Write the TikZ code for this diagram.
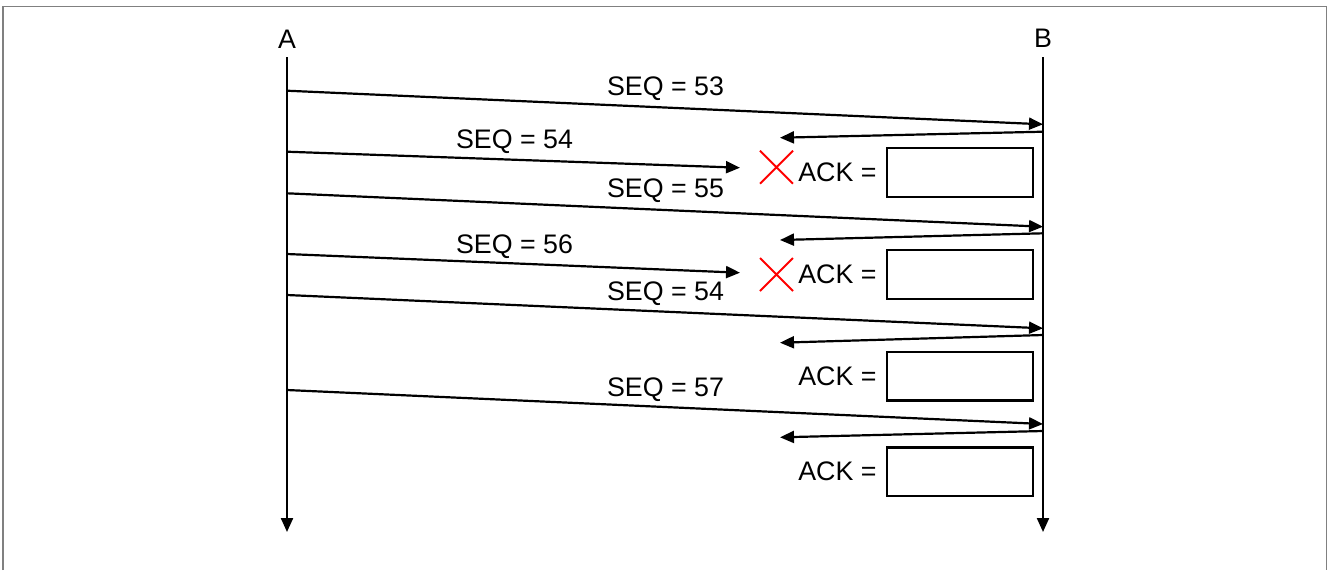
\documentclass[tikz,border=0pt]{standalone}
\usepackage{fontspec}
\setmainfont{Liberation Sans}
\usetikzlibrary{positioning}
\usetikzlibrary{arrows.meta}
\usetikzlibrary{shapes.misc}

\begin{document}
\begin{tikzpicture}[x=0.5pt,y=-0.5pt,line width=1.1pt,
	>={Triangle[length=7pt,width=6pt]},
	nodes={font=\fontsize{13.4}{15}\selectfont, inner sep=0pt},
	lbl/.style={anchor=base},
	lost/.style={cross out, draw=red, line width=1pt, minimum size=15.5pt},
	ackbox/.style={draw, rectangle, minimum width=73.3pt, minimum height=24.2pt}]
	\useasboundingbox (0,0) rectangle (1327,570);
	\draw[gray, line width=0.75pt] (3,570) -- (3,6.5) -- (1326.5,6.5) -- (1326.5,570);
	
	% hosts
	\node (A) [lbl] at (287,48) {A};
	\node (B) [lbl] at (1043,47) {B};
	\coordinate (A0) at (287,57);
	\coordinate (A1) at (287,532);
	\coordinate (B0) at (1043,57);
	\coordinate (B1) at (1043,532);
	\draw[->] (A0) -- (A1);
	\draw[->] (B0) -- (B1);
	
	% segments from A
	\coordinate (s1a) at (287,90.7);   \coordinate (s1b) at (1043,124.3);
	\coordinate (s2a) at (287,151.7);  \coordinate (s2b) at (740,167.7);
	\coordinate (s3a) at (287,193.3);  \coordinate (s3b) at (1043,226.7);
	\coordinate (s4a) at (287,254);    \coordinate (s4b) at (740,272.7);
	\coordinate (s5a) at (287,295);    \coordinate (s5b) at (1043,328.3);
	\coordinate (s6a) at (287,390);    \coordinate (s6b) at (1043,424);
	\draw[->] (s1a) -- (s1b);
	\draw[->] (s2a) -- (s2b);
	\draw[->] (s3a) -- (s3b);
	\draw[->] (s4a) -- (s4b);
	\draw[->] (s5a) -- (s5b);
	\draw[->] (s6a) -- (s6b);
	\node (l1) [lbl] at (665.5,95) {SEQ = 53};
	\node (l2) [lbl] at (514.5,148) {SEQ = 54};
	\node (l3) [lbl] at (665.5,197) {SEQ = 55};
	\node (l4) [lbl] at (514.5,253) {SEQ = 56};
	\node (l5) [lbl] at (665.5,300) {SEQ = 54};
	\node (l6) [lbl] at (665.5,396) {SEQ = 57};
	
	% acks from B
	\coordinate (r1a) at (1043,131.7); \coordinate (r1b) at (780,137.7);
	\coordinate (r2a) at (1043,233.3); \coordinate (r2b) at (780,240);
	\coordinate (r3a) at (1043,335);   \coordinate (r3b) at (780,342.7);
	\coordinate (r4a) at (1043,431);   \coordinate (r4b) at (780,437.3);
	\draw[->] (r1a) -- (r1b);
	\draw[->] (r2a) -- (r2b);
	\draw[->] (r3a) -- (r3b);
	\draw[->] (r4a) -- (r4b);
	
	\node (box1) [ackbox] at (960,172.5) {};
	\node (box2) [ackbox] at (960,274.5) {};
	\node (box3) [ackbox] at (960,376.2) {};
	\node (box4) [ackbox] at (960,471.7) {};
	\node (ack1) [left=4pt of box1] {ACK =};
	\node (ack2) [left=4pt of box2] {ACK =};
	\node (ack3) [left=4pt of box3] {ACK =};
	\node (ack4) [left=4pt of box4] {ACK =};
	
	% lost segments
	\node (x1) [lost] at (776.5,167.2) {};
	\node (x2) [lost] at (776.5,274.5) {};
\end{tikzpicture}
\end{document}
